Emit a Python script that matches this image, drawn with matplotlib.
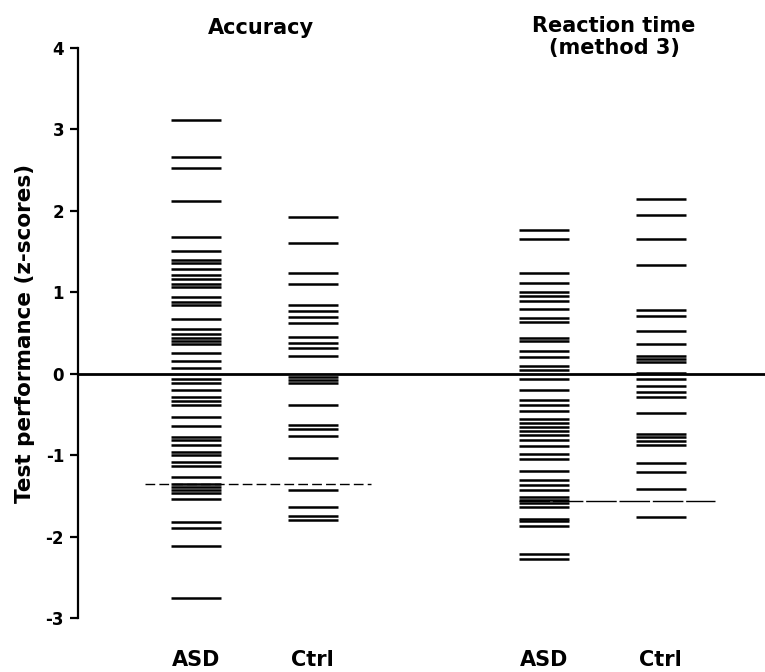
import matplotlib
matplotlib.use("Agg")
import matplotlib.pyplot as plt

# ---- data (z-scores) ----
groups = ["ASD", "Ctrl", "ASD", "Ctrl"]
panel_titles = ["Accuracy", "Reaction time\n(method 3)"]
y_ticks = [-3, -2, -1, 0, 1, 2, 3, 4]

acc_asd = [3.12, 2.66, 2.53, 2.12, 1.68, 1.51, 1.40, 1.36, 1.28, 1.21, 1.16,
           1.10, 1.07, 0.94, 0.88, 0.85, 0.67, 0.55, 0.49, 0.44, 0.40, 0.36,
           0.26, 0.16, 0.07, -0.07, -0.11, -0.20, -0.29, -0.33, -0.39, -0.53,
           -0.64, -0.78, -0.82, -0.88, -0.96, -1.00, -1.08, -1.13, -1.27,
           -1.35, -1.39, -1.43, -1.46, -1.54, -1.82, -1.89, -2.12, -2.75]
acc_ctrl = [1.93, 1.60, 1.24, 1.10, 0.85, 0.77, 0.70, 0.62, 0.45, 0.38, 0.31,
            0.22, -0.04, -0.08, -0.11, -0.38, -0.63, -0.68, -0.76, -1.03,
            -1.43, -1.64, -1.75, -1.80]
rt_asd = [1.77, 1.66, 1.24, 1.11, 1.00, 0.95, 0.89, 0.80, 0.69, 0.63, 0.44,
          0.40, 0.28, 0.20, 0.09, 0.05, -0.07, -0.20, -0.32, -0.39, -0.46,
          -0.55, -0.60, -0.65, -0.70, -0.75, -0.82, -0.89, -0.98, -1.05,
          -1.19, -1.31, -1.37, -1.43, -1.51, -1.55, -1.59, -1.64, -1.78,
          -1.81, -1.87, -2.22, -2.27]
rt_ctrl = [2.14, 1.95, 1.66, 1.34, 0.78, 0.71, 0.52, 0.37, 0.22, 0.18, 0.14,
           0.01, -0.07, -0.15, -0.23, -0.29, -0.48, -0.74, -0.78, -0.83,
           -0.87, -1.10, -1.21, -1.42, -1.76]
series = [acc_asd, acc_ctrl, rt_asd, rt_ctrl]

acc_cutoff = -1.36
rt_cutoff = -1.56

# ---- layout ----
W, H = 765, 672
fig = plt.figure(figsize=(W / 100, H / 100), dpi=100)
ax_left, ax_top, ax_bot = 78, 48, 618
ax = fig.add_axes([ax_left / W, (H - ax_bot) / H, (W - ax_left) / W, (ax_bot - ax_top) / H])
ax.set_xlim(ax_left, W)
ax.set_ylim(-3, 4)

centers = [196, 312.5, 544, 660.5]
half = 25

for xc, vals in zip(centers, series):
    ax.hlines(vals, xc - half, xc + half, colors="black", linewidth=1.8)

ax.axhline(0, color="black", linewidth=2.0)
ax.hlines(acc_cutoff, 145, 371, colors="black", linewidth=1.0, linestyles=(0, (7, 3)))
ax.hlines(rt_cutoff, 519, 715, colors="black", linewidth=1.0, linestyles=(0, (22, 2)))

for s in ["top", "right", "bottom"]:
    ax.spines[s].set_visible(False)
ax.spines["left"].set_linewidth(1.6)
ax.set_xticks([])
ax.set_yticks(y_ticks)
ax.set_yticklabels([str(t) for t in y_ticks], fontsize=12, fontweight="bold",
                   family="DejaVu Sans")
ax.tick_params(axis="y", direction="out", length=6, width=1.6, pad=4)

fig.text(25 / W, 1 - 333 / H, "Test performance (z-scores)", rotation=90,
         ha="center", va="center", fontsize=15.5, fontweight="bold")

for xc, g in zip(centers, groups):
    fig.text(xc / W, 1 - 660 / H, g, ha="center", va="center",
             fontsize=15, fontweight="bold")

fig.text(261 / W, 1 - 28 / H, panel_titles[0], ha="center", va="center",
         fontsize=15, fontweight="bold")
fig.text(614 / W, 1 - 16 / H, panel_titles[1], ha="center", va="top",
         fontsize=15, fontweight="bold", linespacing=1.1, multialignment="center")

fig.savefig("out.png", dpi=100)
